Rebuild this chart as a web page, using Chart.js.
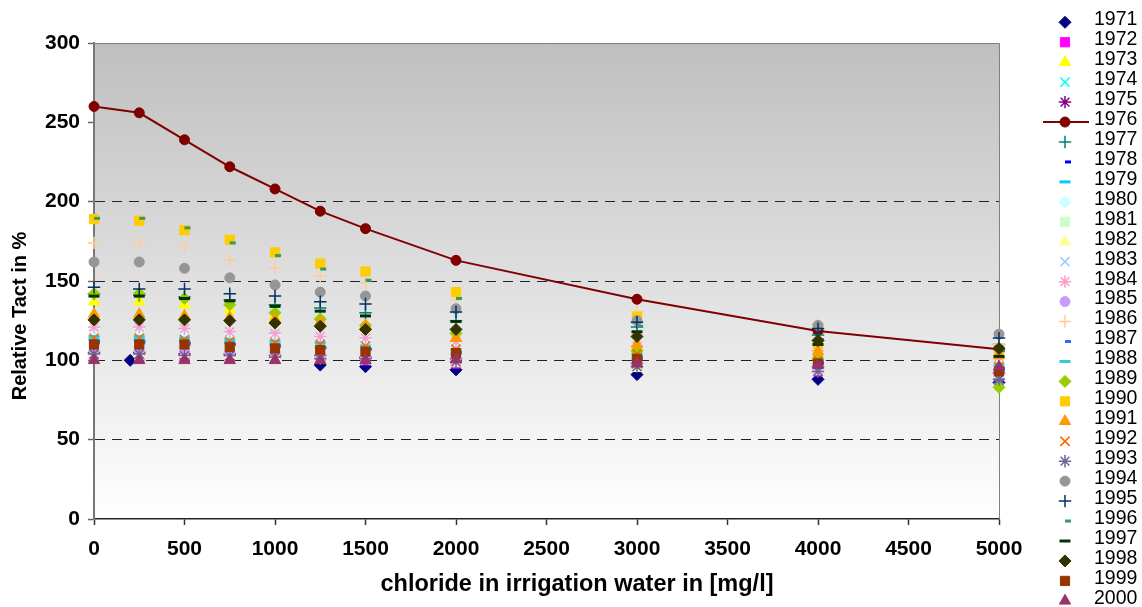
<!DOCTYPE html>
<html>
<head>
<meta charset="utf-8">
<script src="https://cdn.jsdelivr.net/npm/chart.js@4.4.0/dist/chart.umd.min.js"></script>
<style>
  html, body { margin: 0; padding: 0; background: #fff; }
  #wrap { width: 1142px; height: 607px; position: relative; }
</style>
</head>
<body>
<div id="wrap"><canvas id="myChart"></canvas></div>
<script>
// chloride levels in irrigation water [mg/l]
const chloride = [0, 250, 500, 750, 1000, 1250, 1500, 2000, 3000, 4000, 5000];
const chloride1971 = [200, 1250, 1500, 2000, 3000, 4000, 5000];

const xTicks = [0, 500, 1000, 1500, 2000, 2500, 3000, 3500, 4000, 4500, 5000];
const yTicks = [0, 50, 100, 150, 200, 250, 300];

const years = ["1971","1972","1973","1974","1975","1976","1977","1978","1979","1980",
  "1981","1982","1983","1984","1985","1986","1987","1988","1989","1990",
  "1991","1992","1993","1994","1995","1996","1997","1998","1999","2000"];

// relative Tact in %
const t1971 = [100, 97, 96, 94, 91, 88, 86];
const t1972 = [102, 102, 102, 102, 101, 101, 100, 98, 96, 93, 90];
const t1973 = [137, 137, 135, 132, 128, 124, 120, 114, 108, 103, 100];
const t1974 = [117, 117, 116, 114, 115, 112, 111, 108, 104, 100, 88];
const t1975 = [105, 105, 104, 104, 103, 103, 102, 101, 98, 96, 92];
const t1976 = [260, 256, 239, 222, 208, 194, 183, 163, 138.5, 118.5, 107];
const t1977 = [142, 141, 140, 138, 135, 133, 130, 125, 121, 116, 110];
const t1978 = [112, 112, 111, 110, 109, 108, 107, 105, 101, 98, 94];
const t1979 = [113, 113, 112, 111, 110, 108, 106, 104, 101, 97, 93];
const t1980 = [119, 119, 118, 117, 116, 114, 113, 110, 106, 102, 98];
const t1981 = [108, 108, 108, 107, 106, 105, 104, 102, 99, 96, 92];
const t1982 = [104, 104, 104, 103, 102, 101, 100, 98, 95, 93, 90];
const t1983 = [103, 103, 103, 102, 102, 101, 100, 99, 96, 94, 91];
const t1984 = [121, 121, 120, 118, 117, 115, 114, 112, 109, 106, 102];
const t1985 = [106, 106, 106, 105, 104, 103, 102, 101, 98, 96, 93];
const t1986 = [174, 174, 172, 163, 158, 153, 149, 138, 131, 123, 110];
const t1987 = [111, 111, 110, 110, 109, 108, 107, 105, 102, 99, 95];
const t1988 = [115, 115, 114, 113, 112, 111, 109, 107, 104, 101, 97];
const t1989 = [142, 142, 139, 135, 130, 126, 122, 117, 106, 101, 83];
const t1990 = [189, 188, 182, 176, 168, 161, 156, 143, 127.5, 110, 105];
const t1991 = [129, 129, 128, 127, 126, 124, 122, 114, 110, 105.5, 103];
const t1992 = [114, 114, 113, 112, 111, 110, 109, 107, 104, 100, 96];
const t1993 = [104, 104, 103, 103, 102, 101, 101, 99, 96, 93, 88];
const t1994 = [162, 162, 158, 152, 147.5, 143, 140.5, 132.5, 125, 122, 116.5];
const t1995 = [146, 145, 145, 142, 140.5, 137, 135.5, 130.5, 124, 120, 114];
const t1996 = [189.5, 189.5, 183.5, 174, 166, 157.5, 150.5, 139, 121.5, 113, 106];
const t1997 = [140.5, 140.5, 139, 137.5, 134, 131, 128, 124.5, 118, 110, 102.5];
const t1998 = [125.5, 125.5, 125.5, 125, 123.5, 121.5, 119.5, 119.5, 115, 112.5, 107.5];
const t1999 = [110, 110, 110, 108.5, 107.5, 106.5, 105.5, 104.5, 101, 98, 93];
const t2000 = [100, 100, 100, 100, 100, 100, 100, 100.5, 98, 97, 96];

const tactByYear = [t1971, t1972, t1973, t1974, t1975, t1976, t1977, t1978, t1979, t1980,
  t1981, t1982, t1983, t1984, t1985, t1986, t1987, t1988, t1989, t1990,
  t1991, t1992, t1993, t1994, t1995, t1996, t1997, t1998, t1999, t2000];

const markerColors = ["#000080","#FF00FF","#FFFF00","#00FFFF","#800080","#800000","#008080","#0000FF","#00CCFF","#CCFFFF",
  "#CCFFCC","#FFFF99","#99CCFF","#FF99CC","#CC99FF","#FFCC99","#3366FF","#33CCCC","#99CC00","#FFCC00",
  "#FF9900","#FF6600","#666699","#969696","#003366","#339966","#003300","#333300","#993300","#993366"];
const shapeCycle = ["rectRot","rect","triangle","crossRot","star","circle","cross","dash","line"];
const shapeRadius = { rectRot: 6, rect: 6.5, triangle: 6.5, crossRot: 6.5, star: 6.2, circle: 5, cross: 6.2, dash: 6, line: 5.5 };
const shapeBorder = { rectRot: 1, rect: 1, triangle: 1, crossRot: 1.6, star: 1.5, circle: 1, cross: 1.5, dash: 3, line: 3 };

const datasets = years.map((year, i) => {
  const shape = shapeCycle[i % shapeCycle.length];
  const xs = i === 0 ? chloride1971 : chloride;
  return {
    label: year,
    data: xs.map((x, j) => ({ x: x, y: tactByYear[i][j] })),
    pointStyle: shape,
    pointRadius: shapeRadius[shape],
    pointHoverRadius: shapeRadius[shape],
    pointBorderWidth: shapeBorder[shape],
    backgroundColor: markerColors[i],
    borderColor: markerColors[i],
    showLine: year === "1976",
    borderWidth: 2,
    clip: false,
    order: years.length - i,
  };
});

const plotStyle = {
  id: "plotStyle",
  beforeDraw(chart) {
    const { ctx, chartArea: a } = chart;
    const g = ctx.createLinearGradient(0, a.top, 0, a.bottom);
    g.addColorStop(0, "#bfbfbf");
    g.addColorStop(1, "#ffffff");
    ctx.save();
    ctx.fillStyle = g;
    ctx.fillRect(a.left, a.top, a.right - a.left, a.bottom - a.top);
    ctx.restore();
  },
  beforeDatasetsDraw(chart) {
    const { ctx, chartArea: a } = chart;
    ctx.save();
    ctx.strokeStyle = "#808080";
    ctx.lineWidth = 1;
    ctx.beginPath();
    ctx.moveTo(a.left, a.top + 0.5);
    ctx.lineTo(a.right + 0.5, a.top + 0.5);
    ctx.lineTo(a.right + 0.5, a.bottom);
    ctx.stroke();
    ctx.restore();
  },
  afterDraw(chart) {
    const { ctx } = chart;
    ctx.save();
    ctx.fillStyle = "#000";
    // axis titles
    ctx.font = "bold 23.5px 'Liberation Sans', Arial, sans-serif";
    ctx.textAlign = "center";
    ctx.textBaseline = "middle";
    ctx.fillText("chloride in irrigation water in [mg/l]", 577, 585);
    ctx.save();
    ctx.translate(20, 316);
    ctx.rotate(-Math.PI / 2);
    ctx.font = "bold 20px 'Liberation Sans', Arial, sans-serif";
    ctx.fillText("Relative Tact in %", 0, 0);
    ctx.restore();

    // legend
    const drawPoint = Chart.helpers.drawPoint;
    ctx.font = "19.5px 'Liberation Sans', Arial, sans-serif";
    ctx.textAlign = "left";
    chart.data.datasets.forEach((ds, i) => {
      const y = 22.3 + i * 19.95;
      const mx = 1065;
      if (ds.showLine) {
        ctx.strokeStyle = ds.borderColor;
        ctx.lineWidth = 2;
        ctx.beginPath();
        ctx.moveTo(1043, y);
        ctx.lineTo(1089, y);
        ctx.stroke();
      }
      ctx.fillStyle = ds.backgroundColor;
      ctx.strokeStyle = ds.borderColor;
      ctx.lineWidth = ds.pointBorderWidth;
      drawPoint(ctx, { pointStyle: ds.pointStyle, radius: ds.pointRadius, borderWidth: ds.pointBorderWidth, rotation: 0 }, mx, y);
      ctx.fillStyle = "#000";
      ctx.fillText(ds.label, 1094, y - 2.5);
    });
    ctx.restore();
  }
};

const config = {
  type: "scatter",
  data: { datasets: datasets },
  options: {
    responsive: true,
    maintainAspectRatio: false,
    animation: false,
    layout: { padding: { top: 43, right: 143, left: 0, bottom: 0 } },
    scales: {
      x: {
        type: "linear",
        min: 0,
        max: 5000,
        afterBuildTicks: (s) => { s.ticks = xTicks.map(v => ({ value: v })); },
        afterFit: (s) => { s.height = 88; },
        grid: { drawOnChartArea: false, drawTicks: true, tickLength: 6, tickColor: "#333", tickWidth: 1.5 },
        border: { color: "#222", width: 1.5 },
        ticks: {
          autoSkip: false,
          maxRotation: 0,
          padding: 12,
          color: "#000",
          callback: (v) => String(v),
          font: { family: "'Liberation Sans', Arial, sans-serif", size: 21, weight: "bold" },
        },
      },
      y: {
        min: 0,
        max: 300,
        afterBuildTicks: (s) => { s.ticks = yTicks.map(v => ({ value: v })); },
        afterFit: (s) => { s.width = 94; },
        grid: {
          color: (c) => [50, 100, 150, 200].includes(c.tick && c.tick.value) ? "#222" : "rgba(0,0,0,0)",
          lineWidth: 1,
          tickLength: 6,
          tickColor: "#666",
          tickWidth: 1.5,
          tickBorderDash: [],
        },
        border: { color: "#777", width: 2, dash: [10, 7] },
        ticks: {
          padding: 8,
          color: "#000",
          callback: (v) => String(v),
          font: { family: "'Liberation Sans', Arial, sans-serif", size: 21, weight: "bold" },
        },
      },
    },
    plugins: {
      legend: { display: false },
      tooltip: { enabled: false },
    },
  },
  plugins: [plotStyle],
};

const myChart = new Chart(document.getElementById("myChart").getContext("2d"), config);
</script>
</body>
</html>
